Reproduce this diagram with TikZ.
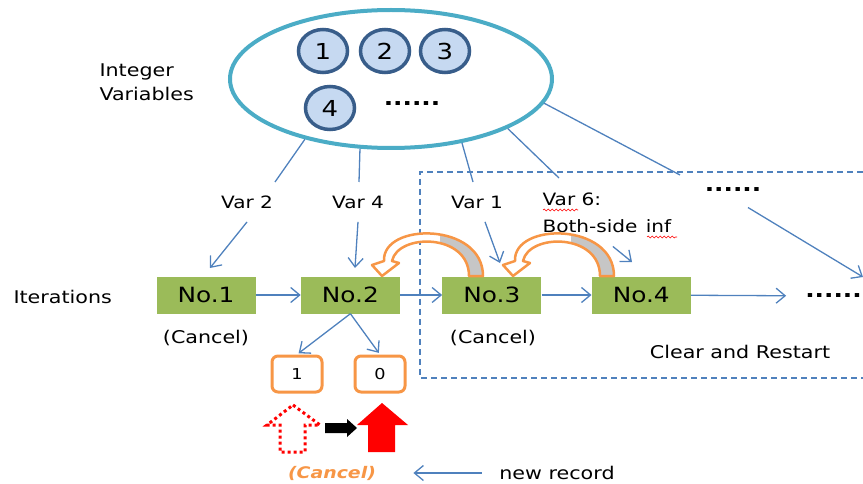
\documentclass[tikz,border=0pt]{standalone}
\usepackage{fontspec}
\setmainfont{DejaVu Sans}[FakeStretch=1.18]
\usetikzlibrary{shapes.geometric, arrows.meta, positioning, decorations.pathmorphing}

\definecolor{ovalcol}{HTML}{4BACC6}
\definecolor{varfill}{HTML}{C6D9F1}
\definecolor{vardraw}{HTML}{385D8A}
\definecolor{itergreen}{HTML}{9BBB59}
\definecolor{linkblue}{HTML}{4F81BD}
\definecolor{recorange}{HTML}{F79646}

% the bent block arrow, tip at (0,0)
\newcommand{\bandpath}{(101,0) .. controls (101,-54) and (0,-54) .. (2,-15) -- (-10,-11) -- (0,0) -- (17,-13) -- (10,-15) .. controls (16,-43) and (87,-43) .. (87,0) -- cycle}
\newcommand{\bentarrow}[1]{%
  \begin{scope}[shift={#1}]
    \fill[white] \bandpath;
    \begin{scope}
      \clip \bandpath;
      \fill[gray!45] (58,-60) rectangle (110,2);
    \end{scope}
    \draw[recorange, line width=2.5pt, line join=round] \bandpath;
  \end{scope}}

\begin{document}
\begin{tikzpicture}[x=1pt, y=-1pt, node distance = 12pt and 45pt]
        \tikzstyle{var} = [ellipse, fill = varfill, draw = vardraw, line width = 3.5pt, minimum width = 49pt, minimum height = 43pt, inner sep = 0pt, font = \fontsize{22}{22}\selectfont]
        \tikzstyle{iter} = [rectangle, fill = itergreen, minimum width = 99pt, minimum height = 37pt, inner sep = 0pt, font = \fontsize{21}{21}\selectfont]
        \tikzstyle{rec} = [rectangle, rounded corners = 6pt, draw = recorange, line width = 3pt, fill = white, minimum width = 50pt, minimum height = 36pt, font = \fontsize{15}{15}\selectfont]
        \tikzstyle{lbl} = [font = \fontsize{17.5}{24}\selectfont, align = left]
        \tikzstyle{varlbl} = [font = \fontsize{17}{27}\selectfont, align = left]
        \tikzstyle{more} = [font = \fontsize{21}{21}\selectfont\bfseries]
        \tikzstyle{link} = [draw = linkblue, line width = 1.3pt]
        \tikzstyle{connect} = [link, -{Straight Barb[length = 9pt, width = 15pt]}]
        \tikzstyle{spell} = [red, line width = 0.6pt, decorate, decoration = {snake, amplitude = 0.9pt, segment length = 4pt}]
        \useasboundingbox (0,0) rectangle (863,484);

        % integer variables
        \node[ellipse, draw = ovalcol, line width = 4pt, fill = white, minimum width = 322pt, minimum height = 138pt] (vars) at (391,79) {};
        \node[var] (c1) at (323,51) {1};
        \node[var] (c2) at (385,51) {2};
        \node[var] (c3) at (445,51) {3};
        \node[var] (c4) at (330,108) {4};
        \node[more] (cdots) at (412,104) {......};
        \node[lbl, anchor = west] (intlbl) at (96,82) {Integer\\Variables};

        % iterations
        \node[lbl, anchor = west] (iterlbl) at (10,297) {Iterations};
        \node[iter] (n1) at (206,295) {No.1};
        \node[iter, right = 45pt of n1] (n2) {No.2};
        \node[iter, right = 42pt of n2] (n3) {No.3};
        \node[iter, right = 50pt of n3] (n4) {No.4};
        \node[more, anchor = east, inner sep = 1pt] (ndots) at (863,296) {......};
        \node[lbl] (cancel1) at (206,338) {(Cancel)};
        \node[lbl] (cancel3) at (493,338) {(Cancel)};
        \node[lbl] (clear) at (740,352) {Clear and Restart};

        % restart region
        \draw[linkblue, line width = 1.2pt, dash pattern = on 6pt off 4pt] (863,172) -- (420,172) -- (420,378) -- (863,378);

        % labels on the variable lines
        \node[varlbl] (v2) at (247,202) {Var 2};
        \node[varlbl] (v4) at (358,202) {Var 4};
        \node[varlbl] (v1) at (477,202) {Var 1};
        \node[varlbl, anchor = west] (v6) at (539,213) {Var 6:\\Both-side\hspace{2pt} inf};
        \node[more] (vdots) at (733,190) {......};
        \draw[spell] (543,210) -- (578,210);
        \draw[spell] (647,237) -- (677,237);

        \coordinate (e2) at (275,182);
        \coordinate (e4) at (359,182);
        \coordinate (e1) at (473,182);
        \coordinate (e6) at (559,178);
        \coordinate (ee) at (680,175);
        \draw[link] (vars.215) -- (e2);
        \draw[link] (vars.246) -- (e4);
        \draw[link] (vars.318) -- (e1);
        \draw[link] (vars.337) -- (e6);
        \draw[link] (vars.351) -- (ee);

        \coordinate (t2) at (210,268);
        \coordinate (t4) at (355,268);
        \coordinate (t1) at (500,263);
        \coordinate (t6) at (632,262);
        \coordinate (tm) at (863,277);
        \draw[connect] ([yshift = -10pt]v2.south) -- (t2);
        \draw[connect] ([yshift = -10pt]v4.south) -- (t4);
        \draw[connect] ([shift = {(8pt,-10pt)}]v1.south) -- (t1);
        \draw[connect] ([shift = {(6pt,-10pt)}]v6.south) -- (t6);
        \draw[connect] ([shift = {(15pt,-12pt)}]vdots.south) -- (tm);

        \path (n1) edge [connect] (n2) (n2) edge [connect] (n3) (n3) edge [connect] (n4);
        \draw[connect, shorten > = 18pt] (n4) -- (ndots);

        % back jumps
        \bentarrow{(382,276)}
        \bentarrow{(513,276)}

        % new record
        \node[rec] (b1) at (297,374) {1};
        \node[rec] (b0) at (380,374) {0};
        \draw[connect, shorten > = 2pt] (n2.south) -- (b1.north);
        \draw[connect, shorten > = 2pt] (n2.south) -- (b0.north);

        \draw[red, line width = 3pt, dash pattern = on 3pt off 3pt] (293,405) -- (320,425) -- (305,425) -- (305,452) -- (280,452) -- (280,425) -- (267,425) -- cycle;
        \fill[black] (325,423) -- (347,423) -- (347,419) -- (357,428) -- (347,437) -- (347,433) -- (325,433) -- cycle;
        \fill[red] (382,403) -- (408,425) -- (395,425) -- (395,452) -- (368,452) -- (368,425) -- (357,425) -- cycle;

        \node[font = \fontsize{16}{16}\selectfont\bfseries\itshape, text = recorange] (cancel2) at (332,473) {(Cancel)};
        \node[lbl] (newrec) at (557,473) {new record};
        \draw[connect, shorten < = 14pt, shorten > = 34pt] (newrec.west) -- (cancel2.east);
      \end{tikzpicture}
\end{document}
